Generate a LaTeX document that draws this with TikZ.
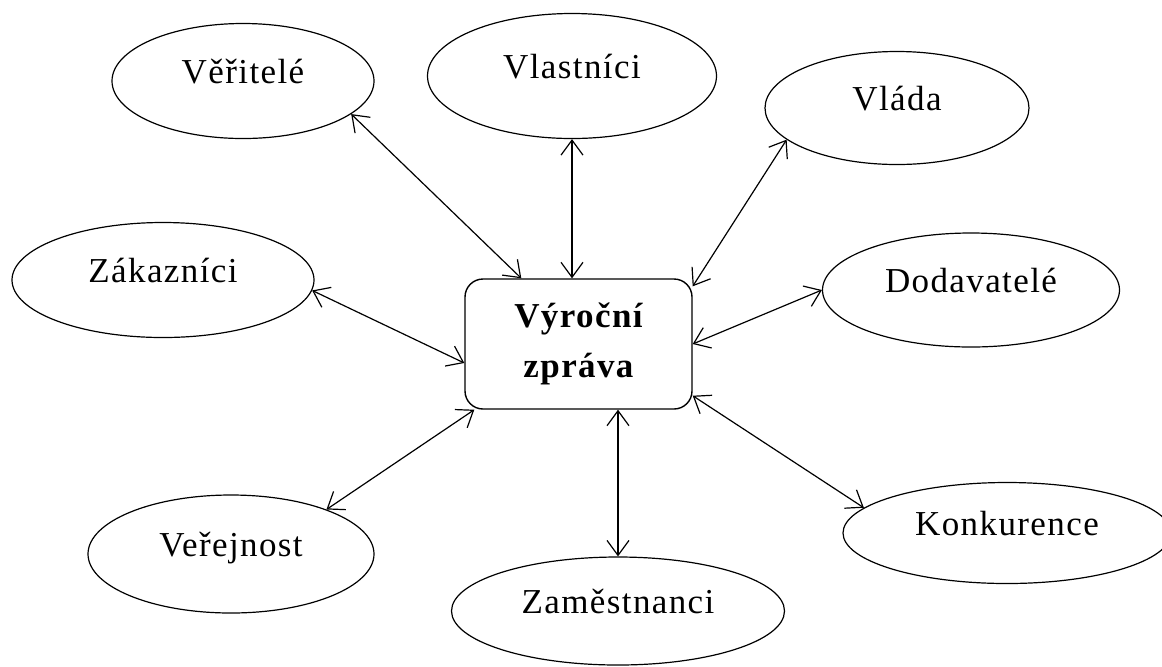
\documentclass[tikz,border=0pt]{standalone}
\usepackage{fontspec}
\setmainfont[LetterSpace=4]{Liberation Serif}
\usepackage{tikz}
\usetikzlibrary{positioning, calc, shapes.geometric, arrows.meta}

\begin{document}
\begin{tikzpicture}[x=0.5pt, y=-0.5pt,
        >={Straight Barb[length=7.5pt,width=11pt]},
        party/.style={ellipse, draw, line width=0.6pt, inner sep=0pt,
            text height=2pt, text depth=0pt, font=\fontsize{17.5}{20}\selectfont},
        report/.style={draw, rounded corners=9pt, line width=0.7pt, align=center,
            font=\bfseries\fontsize{17.5}{25}\selectfont},
        link/.style={<->, line width=0.6pt}]
        \useasboundingbox (0,0) rectangle (1162,666);
        % centre
        \node[report, minimum width=113.5pt, minimum height=65pt] (zprava) at (578.5,344) {Výroční\\zpráva};
        % stakeholders
        \node[party, minimum width=131pt, minimum height=57.5pt] (ver) at (243,81) {Věřitelé};
        \node[party, minimum width=144.5pt, minimum height=62.5pt] (vla) at (572,76) {Vlastníci};
        \node[party, minimum width=132pt, minimum height=56.5pt] (vld) at (897,108) {Vláda};
        \node[party, minimum width=151pt, minimum height=57.5pt] (zak) at (163,280) {Zákazníci};
        \node[party, minimum width=148.5pt, minimum height=57pt] (dod) at (971,290) {Dodavatelé};
        \node[party, minimum width=143pt, minimum height=59pt] (vej) at (231,554) {Veřejnost};
        \node[party, minimum width=166.5pt, minimum height=54pt] (zam) at (618,611) {Zaměstnanci};
        \node[party, minimum width=164pt, minimum height=50.5pt] (kon) at (1007,533) {Konkurence};
        % links
        \draw[link] (ver.-17) -- ($(zprava.north west)+(57,0)$);
        \draw[link] (vla.south) -- (vla.south |- zprava.north);
        \draw[link] ($(zprava.north east)+(0,8)$) -- (vld.196);
        \draw[link] (zprava.east) -- (dod.west);
        \draw[link] ($(zprava.west)+(0,19)$) -- (zak.-4);
        \draw[link] ($(zprava.south west)+(10,0)$) -- (vej.25);
        \draw[link] (zam.north |- zprava.south) -- (zam.north);
        \draw[link] ($(zprava.south east)+(0,-14)$) -- (kon.170);
    \end{tikzpicture}
\end{document}
